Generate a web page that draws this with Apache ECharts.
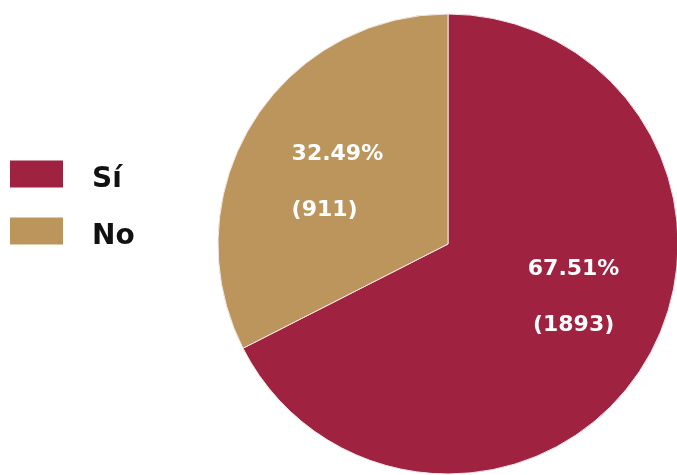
<!DOCTYPE html>
<html>
<head>
<meta charset="utf-8">
<script src="https://cdn.jsdelivr.net/npm/echarts@6/dist/echarts.min.js"></script>
<style>
  html, body { margin: 0; padding: 0; background: #ffffff; }
  #chart { width: 677px; height: 475px; }
</style>
</head>
<body>
<div id="chart"></div>
<script>
// Answers and their counts
const categories = ['Sí', 'No'];
const counts = [1893, 911];
const percents = ['67.51%', '32.49%'];
const colors = ['#9F2241', '#BC955C'];

const FONT = '"DejaVu Sans", sans-serif';

// Per-slice label placement tweaks (padding shifts the centred text block)
const labelTweaks = [
  { align: 'center', padding: [0, 0, 16, 50] },
  { align: 'left', padding: [0, 20, 0, 0] }
];

const data = categories.map((name, i) => ({
  name: name,
  value: counts[i],
  itemStyle: { color: colors[i] },
  label: {
    formatter: '{p|' + percents[i] + '}\n{c|(' + counts[i] + ')}',
    padding: labelTweaks[i].padding,
    rich: {
      p: { fontSize: 22, fontWeight: 'bold', color: '#fff', fontFamily: FONT, lineHeight: 56, align: labelTweaks[i].align },
      c: { fontSize: 22, fontWeight: 'bold', color: '#fff', fontFamily: FONT, lineHeight: 56, align: labelTweaks[i].align }
    }
  }
}));

const chart = echarts.init(document.getElementById('chart'), null, { renderer: 'canvas' });
chart.setOption({
  animation: false,
  legend: {
    orient: 'vertical',
    left: 5,
    top: 155,
    itemWidth: 53,
    itemHeight: 27,
    itemGap: 23,
    icon: 'rect',
    data: categories,
    itemStyle: { borderWidth: 0 },
    // spacer token pushes the name slightly below the swatch centre
    formatter: '{s|}{t|{name}}',
    textStyle: {
      fontFamily: FONT,
      fontWeight: 'bold',
      fontSize: 28,
      color: '#111',
      padding: [0, 0, 0, 24],
      rich: {
        s: { height: 40, width: 0 },
        t: { fontFamily: FONT, fontWeight: 'bold', fontSize: 28, color: '#111', lineHeight: 30, verticalAlign: 'bottom' }
      }
    }
  },
  series: [{
    type: 'pie',
    center: [448, 244],
    radius: 230,
    startAngle: 90,
    clockwise: true,
    avoidLabelOverlap: false,
    itemStyle: { borderColor: '#f4e6e6', borderWidth: 1 },
    label: { show: true, position: 'inside' },
    labelLine: { show: false },
    emphasis: { disabled: true },
    data: data
  }]
});
</script>
</body>
</html>
